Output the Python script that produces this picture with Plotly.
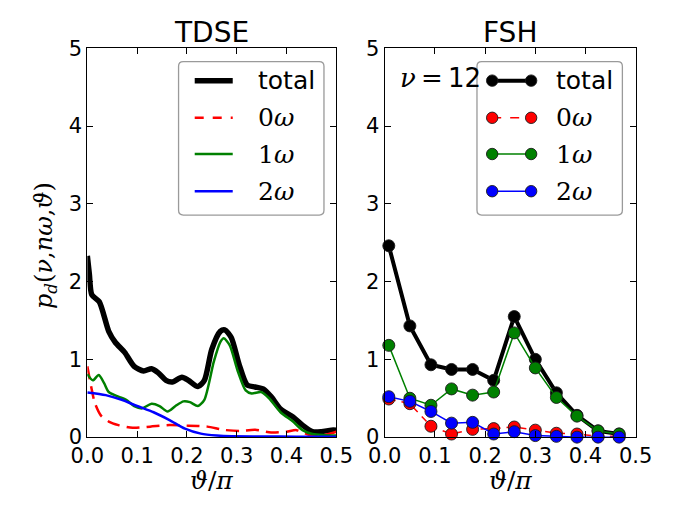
import plotly.graph_objects as go

# ---- TDSE: continuous angular distributions ----
tdse_total_x = [0.0, 0.004, 0.009, 0.024, 0.043, 0.056, 0.075, 0.094, 0.113, 0.129, 0.142,
                0.158, 0.171, 0.19, 0.203, 0.222, 0.235, 0.25, 0.267, 0.276, 0.289, 0.305,
                0.321, 0.337, 0.353, 0.369, 0.388, 0.413, 0.432, 0.452, 0.47, 0.49, 0.5]
tdse_total_y = [2.33, 2.1, 1.83, 1.74, 1.36, 1.22, 1.09, 0.91, 0.85, 0.88, 0.83,
                0.73, 0.71, 0.77, 0.73, 0.65, 0.73, 1.13, 1.36, 1.38, 1.28, 0.93,
                0.67, 0.645, 0.62, 0.52, 0.36, 0.26, 0.155, 0.07, 0.07, 0.09, 0.09]

tdse_0w_x = [0.0, 0.008, 0.015, 0.027, 0.043, 0.0625, 0.091, 0.126, 0.165, 0.203, 0.241,
             0.273, 0.305, 0.337, 0.369, 0.4, 0.42, 0.445, 0.47, 0.49, 0.5]
tdse_0w_y = [0.91, 0.64, 0.44, 0.28, 0.2, 0.155, 0.12, 0.135, 0.155, 0.147, 0.135,
             0.094, 0.08, 0.094, 0.06, 0.07, 0.09, 0.03, 0.02, 0.05, 0.07]

tdse_1w_x = [0.0, 0.011, 0.023, 0.034, 0.043, 0.0625, 0.078, 0.094, 0.11, 0.129, 0.145,
             0.161, 0.177, 0.193, 0.206, 0.222, 0.235, 0.254, 0.267, 0.274, 0.286, 0.302,
             0.318, 0.33, 0.349, 0.365, 0.388, 0.413, 0.432, 0.452, 0.477, 0.5]
tdse_1w_y = [0.81, 0.73, 0.8, 0.69, 0.58, 0.52, 0.48, 0.4, 0.37, 0.43, 0.4,
             0.33, 0.4, 0.46, 0.45, 0.4, 0.48, 0.97, 1.22, 1.27, 1.18, 0.85,
             0.6, 0.56, 0.58, 0.5, 0.32, 0.2, 0.09, 0.04, 0.025, 0.02]

tdse_2w_x = [0.0, 0.037, 0.069, 0.1, 0.133, 0.165, 0.196, 0.228, 0.26, 0.29, 0.35, 0.42, 0.5]
tdse_2w_y = [0.575, 0.54, 0.48, 0.4, 0.32, 0.22, 0.11, 0.045, 0.02, 0.01, 0.008, 0.006, 0.005]

# ---- FSH: discrete angles ----
fsh_x = [0.008, 0.05, 0.092, 0.133, 0.175, 0.217, 0.258, 0.3, 0.342, 0.383, 0.425, 0.467]
fsh_total = [2.46, 1.43, 0.93, 0.87, 0.87, 0.73, 1.55, 1.0, 0.57, 0.28, 0.08, 0.04]
fsh_0w = [0.49, 0.43, 0.14, 0.04, 0.1, 0.11, 0.13, 0.09, 0.05, 0.04, 0.01, 0.01]
fsh_1w = [1.18, 0.5, 0.41, 0.62, 0.54, 0.58, 1.34, 0.89, 0.51, 0.27, 0.08, 0.04]
fsh_2w = [0.52, 0.46, 0.33, 0.18, 0.19, 0.04, 0.07, 0.02, 0.01, 0.0, 0.0, 0.0]

x_ticks = [0.0, 0.1, 0.2, 0.3, 0.4, 0.5]
y_ticks = [0, 1, 2, 3, 4, 5]
legend_labels = ["total", "0<i>ω</i>", "1<i>ω</i>", "2<i>ω</i>"]

BLACK, RED, GREEN, BLUE = "#000000", "#ff0000", "#008000", "#0000ff"
SERIF = "DejaVu Serif"
SANS = "DejaVu Sans"

fig = go.Figure()

# left panel traces
fig.add_trace(go.Scatter(x=tdse_total_x, y=tdse_total_y, mode="lines",
                         line=dict(color=BLACK, width=5.5, shape="spline", smoothing=0.7),
                         xaxis="x", yaxis="y", showlegend=False))
fig.add_trace(go.Scatter(x=tdse_0w_x, y=tdse_0w_y, mode="lines",
                         line=dict(color=RED, width=2.5, dash="13px,7px", shape="spline", smoothing=0.7),
                         xaxis="x", yaxis="y", showlegend=False))
fig.add_trace(go.Scatter(x=tdse_1w_x, y=tdse_1w_y, mode="lines",
                         line=dict(color=GREEN, width=2.5, shape="spline", smoothing=0.7),
                         xaxis="x", yaxis="y", showlegend=False))
fig.add_trace(go.Scatter(x=tdse_2w_x, y=tdse_2w_y, mode="lines",
                         line=dict(color=BLUE, width=2.5, shape="spline", smoothing=0.7),
                         xaxis="x", yaxis="y", showlegend=False))

# right panel traces
mk = dict(symbol="circle", size=12, line=dict(color="#1a1a1a", width=0.9))
fig.add_trace(go.Scatter(x=fsh_x, y=fsh_total, mode="lines+markers",
                         line=dict(color=BLACK, width=4),
                         marker=dict(color=BLACK, **mk),
                         xaxis="x2", yaxis="y2", showlegend=False, cliponaxis=False))
fig.add_trace(go.Scatter(x=fsh_x, y=fsh_0w, mode="lines+markers",
                         line=dict(color=RED, width=1.5, dash="7px,6px"),
                         marker=dict(color=RED, **mk),
                         xaxis="x2", yaxis="y2", showlegend=False, cliponaxis=False))
fig.add_trace(go.Scatter(x=fsh_x, y=fsh_1w, mode="lines+markers",
                         line=dict(color=GREEN, width=1.5),
                         marker=dict(color=GREEN, **mk),
                         xaxis="x2", yaxis="y2", showlegend=False, cliponaxis=False))
fig.add_trace(go.Scatter(x=fsh_x, y=fsh_2w, mode="lines+markers",
                         line=dict(color=BLUE, width=1.5),
                         marker=dict(color=BLUE, **mk),
                         xaxis="x2", yaxis="y2", showlegend=False, cliponaxis=False))

W, H = 685, 513
axis_common = dict(showgrid=False, zeroline=False, showline=True, linecolor="black",
                   linewidth=1.2, mirror="ticks", ticks="inside", ticklen=6,
                   tickcolor="black", tickwidth=1,
                   tickfont=dict(family=SANS, size=21, color="black"))

xa = dict(range=[0, 0.5], tickvals=x_ticks, ticktext=[f"{v:.1f}" for v in x_ticks], **axis_common)
ya = dict(range=[0, 5], tickvals=y_ticks, ticktext=[str(v) for v in y_ticks], **axis_common)

fig.update_layout(
    width=W, height=H, margin=dict(l=0, r=0, t=0, b=0),
    paper_bgcolor="white", plot_bgcolor="white",
    xaxis=dict(domain=[74 / W, 336 / W], anchor="y", **xa),
    yaxis=dict(domain=[1 - 446 / H, 1 - 38 / H], anchor="x", **ya),
    xaxis2=dict(domain=[387 / W, 651 / W], anchor="y2", **xa),
    yaxis2=dict(domain=[1 - 446 / H, 1 - 38 / H], anchor="x2", **ya),
)

annotations = []
shapes = []

# panel titles and x-axis labels
for ref, title in (("x", "TDSE"), ("x2", "FSH")):
    annotations.append(dict(text=title, xref=f"{ref} domain", yref="paper", x=0.5,
                            y=1 - 22 / H, showarrow=False, xanchor="center", yanchor="middle",
                            font=dict(family=SANS, size=28, color="black")))
    annotations.append(dict(text="<i>ϑ</i>/<i>π</i>", xref=f"{ref} domain", yref="paper",
                            x=0.5, y=1 - 492 / H, showarrow=False, xanchor="center",
                            yanchor="middle", font=dict(family=SERIF, size=25, color="black")))

# y-axis label
annotations.append(dict(text="<i>p<sub>d</sub></i>(<i>ν</i>,<i>nω</i>,<i>ϑ</i>)",
                        xref="paper", yref="paper", x=30 / W, y=1 - 245 / H, textangle=-90,
                        showarrow=False, xanchor="center", yanchor="middle",
                        font=dict(family=SERIF, size=24, color="black")))

# ν = 12 label
annotations.append(dict(text="<i>ν</i>\u2009=\u2009<span style='font-family:DejaVu Sans'>12</span>",
                        xref="x2 domain", yref="y2 domain", x=(401 - 387) / 264,
                        y=(446 - 69) / 408, showarrow=False, xanchor="left", yanchor="middle",
                        font=dict(family=SERIF, size=26, color="black")))


def rounded_box(x0, x1, y0, y1, rx, ry):
    return (f"M {x0 + rx},{y0} L {x1 - rx},{y0} Q {x1},{y0} {x1},{y0 + ry} "
            f"L {x1},{y1 - ry} Q {x1},{y1} {x1 - rx},{y1} L {x0 + rx},{y1} "
            f"Q {x0},{y1} {x0},{y1 - ry} L {x0},{y0 + ry} Q {x0},{y0} {x0 + rx},{y0} Z")


def add_legend(xref, yref, box, sample, text_x, styles, with_markers, pw):
    xr, yr = f"{xref} domain", f"{yref} domain"
    ph = 408
    shapes.append(dict(type="path", xref=xr, yref=yr,
                       path=rounded_box(box[0], box[1], box[2], box[3], 5 / pw, 5 / ph),
                       line=dict(color="#9a9a9a", width=1.3), fillcolor="white", layer="above"))
    rows = [(446 - py) / ph for py in (72, 111, 149, 188)]
    for (color, width, dash), label, ry in zip(styles, legend_labels, rows):
        shapes.append(dict(type="line", xref=xr, yref=yr, x0=sample[0], x1=sample[1],
                           y0=ry, y1=ry, layer="above",
                           line=dict(color=color, width=width, dash=dash)))
        if with_markers:
            for sx in sample:
                shapes.append(dict(type="circle", xref=xr, yref=yr, layer="above",
                                   x0=sx - 6 / pw, x1=sx + 6 / pw,
                                   y0=ry - 6 / ph, y1=ry + 6 / ph,
                                   fillcolor=color, line=dict(color="#1a1a1a", width=0.9)))
        fam = SANS if label == "total" else SERIF
        annotations.append(dict(text=label, xref=xr, yref=yr, x=text_x, y=ry,
                                showarrow=False, xanchor="left", yanchor="middle",
                                font=dict(family=fam, size=25, color="black")))


pw1, pw2 = 262, 264
add_legend("x", "y",
           box=((170 - 74) / pw1, (323 - 74) / pw1, (446 - 213) / 408, (446 - 52) / 408),
           sample=((187 - 74) / pw1, (227 - 74) / pw1), text_x=(252 - 74) / pw1,
           styles=[(BLACK, 5.5, "solid"), (RED, 2.5, "dash"), (GREEN, 2.5, "solid"),
                   (BLUE, 2.5, "solid")],
           with_markers=False, pw=pw1)
add_legend("x2", "y2",
           box=((484 - 387) / pw2, (637 - 387) / pw2, (446 - 213) / 408, (446 - 52) / 408),
           sample=((500 - 387) / pw2, (541 - 387) / pw2), text_x=(565 - 387) / pw2,
           styles=[(BLACK, 4, "solid"), (RED, 1.5, "dash"), (GREEN, 1.5, "solid"),
                   (BLUE, 1.5, "solid")],
           with_markers=True, pw=pw2)

fig.update_layout(annotations=annotations, shapes=shapes)

# page body without default margin so the figure sits at the window origin
fig.write_html("out.html",
               post_script="document.body.style.margin='0';document.body.style.overflow='hidden';")
